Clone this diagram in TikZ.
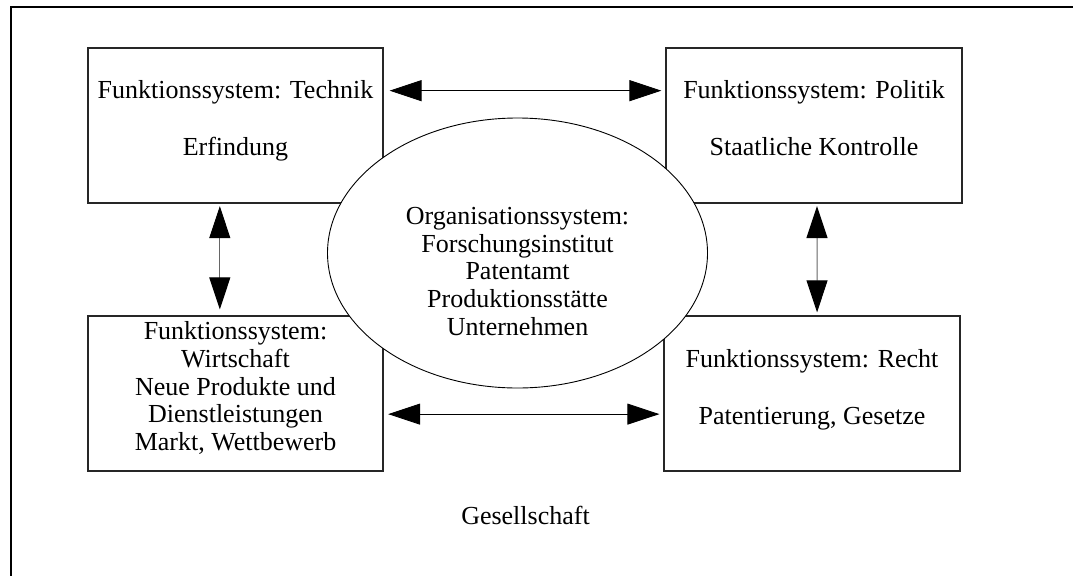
\documentclass[tikz,border=0pt]{standalone}
\usepackage{fontspec}
\setmainfont{Liberation Serif}
\usetikzlibrary{arrows.meta,shapes.geometric,calc}

\tikzset{
  sysbox/.style={draw=black!85, line width=1.2pt, rectangle, inner sep=0pt, fill=white,
    minimum height=155pt},
  orgellipse/.style={draw=black, line width=0.9pt, ellipse, inner sep=0pt, fill=white,
    minimum width=380pt, minimum height=270pt},
  label/.style={inner sep=0pt, align=center, anchor=north,
    font=\fontsize{26}{27.7}\selectfont},
  link/.style={draw=black, line width=0.9pt,
    {Triangle[length=32pt,width=21pt,color=black]}-{Triangle[length=32pt,width=21pt,color=black]}},
  vlink/.style={link, draw=black!60, line width=1pt},
  frame/.style={draw=black, line width=2pt}
}

\begin{document}
\begin{tikzpicture}[x=1pt,y=-1pt]
  \useasboundingbox (0,0) rectangle (1073,576);

  % surrounding society frame (open to the right and bottom)
  \draw[frame] (1073,7.3) -- (11,7.3) -- (11,576);

  % the four function systems
  \node[sysbox, minimum width=295pt] (tech)  at (235.5,125.5) {};
  \node[sysbox, minimum width=296pt] (pol)   at (814,125.5) {};
  \node[sysbox, minimum width=295pt] (wirt)  at (235.5,393.5) {};
  \node[sysbox, minimum width=296pt] (recht) at (812,393.5) {};

  % organisation system in the middle
  \node[orgellipse] (org) at (517.5,253) {};

  % texts
  \node[label] (techtxt) at (235.5,80.5) {Funktionssystem: Technik\\[29pt]Erfindung};
  \node[label] (poltxt) at (814,80.5) {Funktionssystem: Politik\\[29pt]Staatliche Kontrolle};
  \node[label] (wirttxt) at (235.5,321.5) {Funktionssystem:\\Wirtschaft\\Neue Produkte und\\Dienstleistungen\\Markt, Wettbewerb};
  \node[label] (rechttxt) at (812,349.5) {Funktionssystem: Recht\\[29pt]Patentierung, Gesetze};
  \node[label] (orgtxt) at (517.5,207) {Organisationssystem:\\Forschungsinstitut\\Patentamt\\Produktionsstätte\\Unternehmen};
  \node[label] (ges) at (525.5,506) {Gesellschaft};

  % interactions
  \draw[link, shorten <=6pt, shorten >=4pt]
    ($(tech.north east)!0.277!(tech.south east)$) -- ($(pol.north west)!0.277!(pol.south west)$);
  \draw[link, shorten <=4.5pt, shorten >=4pt]
    ($(wirt.north east)!0.632!(wirt.south east)$) -- ($(recht.north west)!0.632!(recht.south west)$);
  \draw[vlink, shorten <=2.5pt, shorten >=6pt]
    ($(tech.south west)!0.447!(tech.south east)$) -- ($(wirt.north west)!0.447!(wirt.north east)$);
  \draw[vlink, shorten <=2.5pt, shorten >=3pt]
    ($(pol.south west)!0.51!(pol.south east)$) -- ($(recht.north west)!0.517!(recht.north east)$);
\end{tikzpicture}
\end{document}
